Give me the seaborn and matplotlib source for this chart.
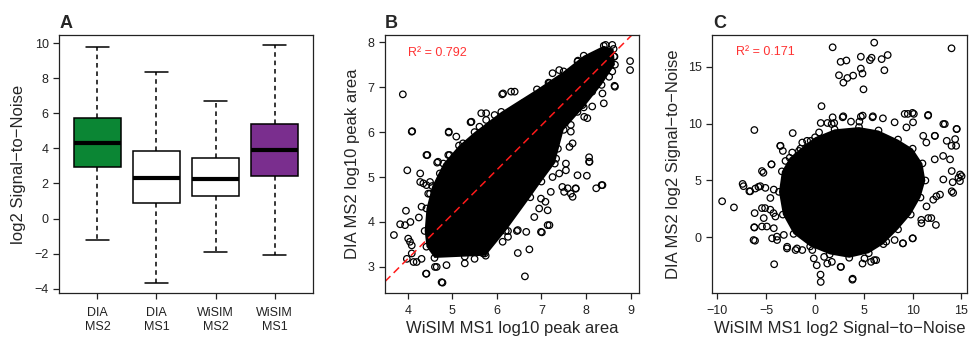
import numpy as np
import pandas as pd
import matplotlib
matplotlib.use("Agg")
import matplotlib.pyplot as plt
import seaborn as sns

# ---- panel A: box summaries ----
groups = ["DIA\nMS2", "DIA\nMS1", "WiSIM\nMS2", "WiSIM\nMS1"]
box_low = [-1.22, -3.66, -1.92, -2.08]
box_q1 = [2.93, 0.87, 1.29, 2.45]
box_med = [4.30, 2.33, 2.24, 3.91]
box_q3 = [5.72, 3.86, 3.47, 5.40]
box_high = [9.81, 8.35, 6.71, 9.90]
box_colors = ["#0B8634", "#FFFFFF", "#FFFFFF", "#7A2E8E"]

# ---- panel B: outline of the solid black core + single points ----
b_core_x = [4.60, 4.42, 4.38, 4.42, 4.55, 4.80, 5.15, 5.50, 6.10, 6.90, 7.50, 7.95, 8.40,
            8.62, 8.65, 8.35, 7.95, 7.50, 7.30, 7.00, 6.75, 6.20, 5.75]
b_core_y = [3.20, 3.45, 3.80, 4.30, 4.80, 5.30, 5.70, 6.00, 6.45, 6.95, 7.35, 7.70, 7.92,
            7.85, 7.50, 7.05, 6.55, 6.05, 5.30, 4.90, 4.55, 3.80, 3.25]
b_out_x = [3.89, 4.10, 3.99, 3.69, 3.96, 4.44, 4.66, 4.92, 5.09, 5.41, 6.12, 6.40,
           7.16, 7.82, 8.99, 8.99, 8.64, 8.40, 8.07, 8.08, 8.02, 8.35, 8.23, 7.70,
           7.59, 7.77, 7.18, 7.01, 6.73, 6.47, 6.63, 4.78, 4.41, 4.65, 5.69, 6.25,
           6.45, 3.83, 4.05, 4.09, 4.20, 4.25, 4.28, 4.42]
b_out_y = [6.84, 6.02, 5.15, 3.71, 4.25, 5.49, 5.32, 5.99, 5.90, 6.22, 6.84, 6.90,
           7.10, 7.59, 7.58, 7.38, 7.03, 6.64, 5.44, 5.34, 5.03, 4.82, 4.75, 4.56,
           4.75, 4.75, 3.93, 3.77, 3.39, 3.31, 2.79, 2.65, 2.85, 3.00, 3.30, 3.80,
           3.80, 3.95, 3.56, 3.30, 3.11, 4.10, 4.89, 4.82]
b_edge_x = [4.09, 4.92, 4.42, 4.68, 4.91, 4.28, 4.35, 4.46, 4.50, 4.06, 3.94, 4.01,
            4.09, 3.98, 4.13, 4.31, 4.42, 4.61, 4.76, 4.87, 5.28, 5.50, 5.73, 5.28,
            5.91, 6.13, 6.25, 6.47, 6.66, 6.99, 7.14, 6.84, 7.14, 6.99, 7.21, 7.51,
            7.66, 7.77, 7.47, 7.81, 7.55, 7.55, 7.33, 7.37, 7.63, 8.07, 8.37, 7.66,
            5.43, 5.65, 5.76, 5.95, 6.14, 6.32, 6.58, 6.73, 6.95, 7.18, 7.33, 7.29,
            7.55, 7.81, 7.85, 8.59, 8.63, 8.44, 8.65, 8.52, 8.14, 7.92, 8.03, 7.81,
            7.66, 7.25, 6.95, 7.09, 7.25, 7.40, 7.70, 7.96, 8.14, 8.37, 8.59, 8.64,
            8.44, 7.25, 7.40, 6.88, 6.58, 5.76, 5.61, 5.24, 4.94, 4.72, 4.50, 4.31]
b_edge_y = [6.01, 6.01, 5.49, 5.34, 5.49, 5.08, 4.86, 4.63, 4.89, 4.00, 3.93, 3.63,
            3.48, 3.18, 3.11, 3.18, 2.85, 3.00, 2.66, 3.04, 3.08, 3.18, 3.30, 3.23,
            3.60, 3.56, 3.67, 3.82, 3.78, 3.78, 3.93, 4.11, 4.26, 4.52, 4.67, 4.67,
            4.63, 4.74, 4.78, 5.04, 5.15, 5.30, 5.41, 5.63, 5.67, 5.34, 4.82, 6.01,
            6.23, 6.42, 6.27, 6.38, 6.86, 6.90, 6.64, 6.53, 6.79, 7.09, 7.01, 6.71,
            6.86, 7.57, 7.42, 7.94, 7.68, 7.79, 7.01, 7.23, 6.90, 6.60, 6.31, 6.45,
            6.16, 6.05, 4.30, 4.45, 5.00, 5.08, 5.75, 6.34, 6.57, 6.86, 7.35, 7.68,
            7.94, 7.31, 7.38, 6.71, 6.57, 6.42, 6.12, 5.75, 5.49, 5.08, 4.63, 4.34]
b_fit_intercept = -0.78
b_fit_slope = 0.99
b_r2 = "R\u00b2 = 0.792"

# ---- panel C: outline of the solid black core + single points ----
c_core_x = [-1.5, 0.0, 2.0, 4.5, 6.5, 8.5, 10.0, 11.0, 11.3, 10.8, 9.8, 8.5,
            7.0, 5.5, 3.5, 1.5, -0.5, -2.2, -3.3, -3.7, -3.4, -2.6]
c_core_y = [7.8, 8.8, 9.5, 9.7, 9.4, 8.6, 7.8, 6.5, 5.0, 3.5, 2.0, 0.7,
            -0.6, -1.4, -1.8, -1.5, -0.8, 0.3, 2.0, 4.0, 5.8, 7.0]
c_out_x = [-9.52, -8.31, -6.22, -2.29, 0.66, -4.19, 0.56, 3.83, -6.15, -6.22,
           -7.42, -6.73, -5.80, -5.29, -4.46, -3.57, -0.82, 9.50, 10.12, 11.57,
           13.29, 14.49, 13.98, 15.01, 14.84, 14.15, 12.43, 11.91, 10.88, 10.02,
           8.99, 6.06, 4.86, 2.62, 1.25, -0.13, -1.85, -2.88, -3.91, -4.94,
           -4.26, -5.12, 13.12, 12.26, 11.40, 12.26,
           1.80, 6.06, 13.98, 2.62, 3.21, 4.69, 5.62, 5.79, 6.82, 7.44,
           7.10, 4.69, 4.86, 2.45, 3.31, 3.90, 2.90, 4.96]
c_out_y = [3.17, 2.63, 9.44, 9.17, 11.54, -2.37, -3.28, -3.73, -0.30, 0.86,
           4.70, 4.05, 4.44, 5.68, 6.42, 8.05, 8.49, 10.86, 10.86, 10.71,
           9.97, 9.53, 8.05, 5.38, 4.94, 3.91, 3.61, 1.69, 1.54, -0.09,
           -0.53, -2.01, -2.31, -2.60, -2.31, -1.86, -0.98, -0.98, 0.06, 0.95,
           2.13, 2.57, 7.16, 6.86, 8.34, 8.93,
           16.72, 17.13, 16.63, 15.44, 15.56, 15.89, 15.59, 15.80, 15.68, 16.04,
           14.70, 14.85, 14.41, 14.26, 14.02, 14.23, 13.61, 13.02]
c_edge_x = [0.58, 1.27, 1.96, 2.89, 3.68, 4.54, 4.88, 5.92, 6.95, 8.15, 9.18, 9.98,
            11.59, 10.04, 9.36, 11.08, 12.28, 13.14, 14.52, 13.49, 14.35, 14.45,
            13.83, 14.00, 14.86, 14.69, 13.14, 14.10, 14.00, 12.11, 12.80, 11.42,
            10.90, 12.38, 11.59, 9.98, 9.01, 8.15, 7.29, 6.26, 5.74, 5.06, 3.85,
            2.65, 1.72, 0.93, 0.17, 0.58, -0.28, -1.31, -2.00, -2.86, -3.89,
            -4.40, -3.20, -4.23, -6.30, -6.23, -5.44, -5.26, -6.19, -4.58, -4.06,
            -5.44, -6.64, -7.33, -6.12, -5.61, -5.09, -4.23, -4.58, -5.44, -4.47,
            -3.54, -3.30, -3.03, -2.34, -1.65, -1.31, -0.45, -0.79, 0.41,
            1.80, 2.83, 4.69, 5.89, 1.70]
c_edge_y = [10.06, 10.06, 10.06, 10.65, 10.18, 10.18, 10.71, 10.65, 10.47, 10.12,
            10.86, 10.95, 10.77, 10.12, 9.67, 8.93, 8.93, 9.97, 9.53, 8.49, 8.64,
            8.05, 6.86, 5.83, 5.53, 5.24, 5.09, 4.85, 4.05, 3.31, 3.76, 2.72,
            1.24, 1.09, 1.69, -0.09, -0.53, -0.24, -0.38, -2.01, -2.16, -1.86,
            -3.64, -2.60, -2.16, -1.72, -2.46, -3.93, -1.12, -1.12, -1.12, -0.83,
            -0.24, -0.09, 0.21, 0.80, -0.24, 0.89, 0.95, 1.69, 2.13, 2.43, 1.83,
            2.57, 4.05, 4.50, 4.29, 4.50, 4.35, 4.20, 3.46, 5.83, 6.42,
            8.05, 7.60, 6.72, 7.46, 7.60, 8.34, 8.49, 7.90, 9.23,
            10.56, 10.56, 10.62, 10.56, 9.97]
c_r2 = "R\u00b2 = 0.171"

sns.set_style("ticks")
plt.rcParams["font.family"] = ["Liberation Sans", "DejaVu Sans"]
plt.rcParams["axes.linewidth"] = 0.9
plt.rcParams["xtick.major.width"] = 0.9
plt.rcParams["ytick.major.width"] = 0.9
plt.rcParams["xtick.major.size"] = 4
plt.rcParams["ytick.major.size"] = 4
plt.rcParams["xtick.labelsize"] = 9
plt.rcParams["ytick.labelsize"] = 9
plt.rcParams["xtick.color"] = "#222222"
plt.rcParams["ytick.color"] = "#222222"

fig = plt.figure(figsize=(9.72, 3.39), dpi=100)
axA = fig.add_axes([0.0607, 0.1357, 0.2613, 0.761])
axB = fig.add_axes([0.3961, 0.1357, 0.2613, 0.761])
axC = fig.add_axes([0.7325, 0.1357, 0.2623, 0.761])

# A
rows = []
for g, lo, q1, md, q3, hi in zip(groups, box_low, box_q1, box_med, box_q3, box_high):
    for v in (lo, q1, md, q3, hi):
        rows.append({"group": g, "value": v})
dfa = pd.DataFrame(rows)
sns.boxplot(data=dfa, x="group", y="value", hue="group", palette=box_colors,
            saturation=1, legend=False, whis=(0, 100), width=0.8, showfliers=False,
            linecolor="black", linewidth=1.1,
            medianprops=dict(linewidth=3),
            whiskerprops=dict(linestyle=(0, (3, 2.5))), ax=axA)
axA.set_xlim(-0.65, 3.65)
axA.set_ylim(-4.25, 10.47)
axA.set_yticks([-4, -2, 0, 2, 4, 6, 8, 10])
axA.set_xlabel("")
axA.set_ylabel("log2 Signal\u2212to\u2212Noise", fontsize=12)
axA.yaxis.set_label_coords(-0.13, 0.5)
axA.tick_params(axis="x", pad=6)


def cloud(ax, core_x, core_y, pts_x, pts_y):
    # solid core drawn as one filled outline, loose points as open circles
    ax.fill(core_x, core_y, color="black", lw=0)
    sns.scatterplot(x=core_x + pts_x, y=core_y + pts_y, ax=ax, s=22,
                    facecolor="none", edgecolor="black", linewidth=0.9)


# B
cloud(axB, b_core_x, b_core_y, b_out_x + b_edge_x, b_out_y + b_edge_y)
axB.axline((0, b_fit_intercept), slope=b_fit_slope, color="#FF1A1A",
           ls=(0, (5, 3)), lw=1.1)
axB.text(4.0, 7.76, b_r2, color="#FF3333", fontsize=9, va="center", ha="left")
axB.set_xlim(3.49, 9.19)
axB.set_ylim(2.42, 8.16)
axB.set_xticks([4, 5, 6, 7, 8, 9])
axB.set_yticks([3, 4, 5, 6, 7, 8])
axB.set_xlabel("WiSIM MS1 log10 peak area", fontsize=12)
axB.set_ylabel("DIA MS2 log10 peak area", fontsize=12)
axB.yaxis.set_label_coords(-0.10, 0.5)
axB.xaxis.set_label_coords(0.5, -0.11)
axB.tick_params(axis="x", pad=5)

# C
cloud(axC, c_core_x, c_core_y, c_out_x + c_edge_x, c_out_y + c_edge_y)
axC.text(-8.1, 16.3, c_r2, color="#FF3333", fontsize=9, va="center", ha="left")
axC.set_xlim(-10.56, 15.56)
axC.set_ylim(-4.9, 17.8)
axC.set_xticks([-10, -5, 0, 5, 10, 15])
axC.set_yticks([0, 5, 10, 15])
axC.set_xlabel("WiSIM MS1 log2 Signal\u2212to\u2212Noise", fontsize=12)
axC.set_ylabel("DIA MS2 log2 Signal\u2212to\u2212Noise", fontsize=12)
axC.yaxis.set_label_coords(-0.12, 0.5)
axC.xaxis.set_label_coords(0.5, -0.11)
axC.tick_params(axis="x", pad=5)

for ax in (axA, axB, axC):
    for s in ax.spines.values():
        s.set_visible(True)
        s.set_color("#222222")

for lab, xpx in (("A", 60), ("B", 385), ("C", 713)):
    fig.text(xpx / 972, 1 - 28 / 339, lab, fontsize=13, fontweight="bold",
             va="baseline", ha="left")

fig.savefig("out.png", dpi=100)
